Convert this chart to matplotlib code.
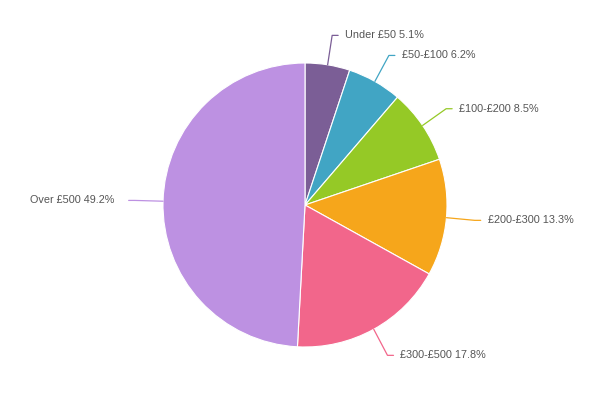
import numpy as np
import matplotlib
matplotlib.use("Agg")
import matplotlib.pyplot as plt

labels = ["Under £50", "£50-£100", "£100-£200", "£200-£300", "£300-£500", "Over £500"]
values = [5.1, 6.2, 8.5, 13.3, 17.8, 49.2]
colors = ["#7b5e96", "#41a5c4", "#95c926", "#f6a61b", "#f2668b", "#bd91e2"]

W, H = 594, 397
fig = plt.figure(figsize=(W / 100, H / 100), dpi=100)
ax = fig.add_axes([0, 0, 1, 1])

cx, cy, R = 305, H - 205, 142
wedges, _ = ax.pie(values, colors=colors, startangle=90, counterclock=False,
                   center=(cx, cy), radius=R, frame=True,
                   wedgeprops=dict(edgecolor="white", linewidth=0.8))
ax.set_xlim(0, W)
ax.set_ylim(0, H)
ax.set_aspect("equal")
ax.axis("off")

for w, lab, val, col in zip(wedges, labels, values, colors):
    ang = np.deg2rad((w.theta1 + w.theta2) / 2)
    c, s = np.cos(ang), np.sin(ang)
    x0, y0 = cx + R * c, cy + R * s
    x1, y1 = cx + 1.2 * R * c, cy + 1.21 * R * s
    sign = 1 if c >= 0 else -1
    x2 = x1 + sign * 6
    ax.plot([x0, x1, x2], [y0, y1, y1], color=col, lw=0.9, solid_capstyle="round")
    gap = 7 if sign > 0 else 14
    ax.text(x2 + sign * gap, y1, f"{lab} {val}%", ha="left" if sign > 0 else "right",
            va="center", fontsize=7.8, color="#555555", family=["Liberation Sans", "DejaVu Sans"])

fig.savefig("out.png", dpi=100)
